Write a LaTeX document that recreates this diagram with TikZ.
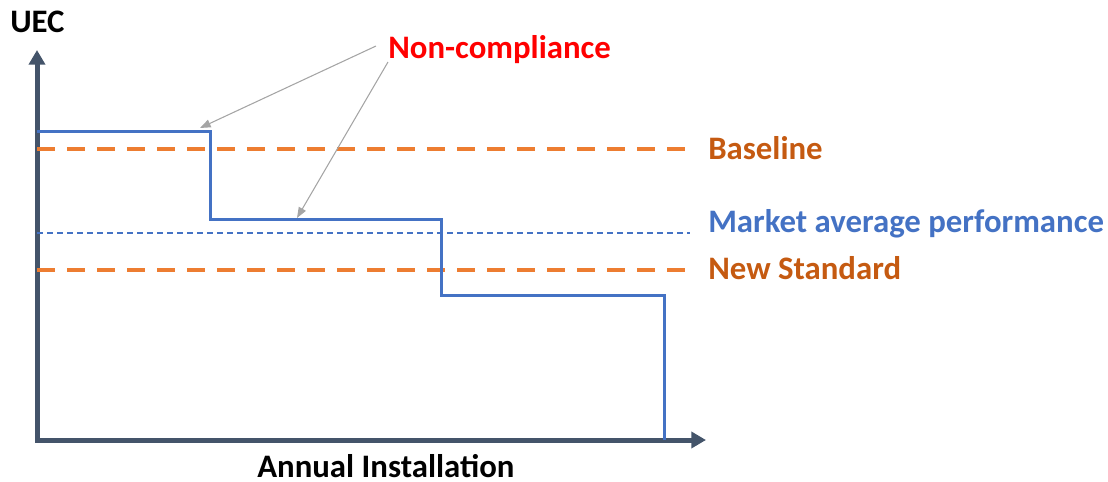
\documentclass[tikz,border=0pt]{standalone}
\usepackage{fontspec}
\setmainfont{Carlito}
\usetikzlibrary{arrows.meta, positioning}
\definecolor{axisgray}{HTML}{44546A}
\definecolor{stepblue}{HTML}{4472C4}
\definecolor{lineorange}{HTML}{ED7D31}
\definecolor{textorange}{HTML}{C55A11}
\definecolor{notegray}{HTML}{A5A5A5}
\tikzset{
  axis/.style={draw=axisgray, line width=3.75pt,
               {Triangle[length=11pt, width=12pt]}-{Triangle[length=11pt, width=12pt]}},
  stepline/.style={draw=stepblue, line width=2.25pt, line join=miter},
  stdline/.style={draw=lineorange, line width=3pt, dash pattern=on 13.5pt off 9pt},
  avgline/.style={draw=stepblue, line width=1.1pt, dash pattern=on 4.5pt off 3pt},
  lbl/.style={inner sep=0pt, anchor=base west, font=\fontsize{24.6}{28}\selectfont\bfseries},
  note/.style={draw=notegray, line width=0.8pt, -{Triangle[length=8pt, width=6pt]}},
}

\begin{document}
\begin{tikzpicture}[x=0.75pt, y=-0.75pt]
  \useasboundingbox (0,0) rectangle (1108,482);
  \coordinate (o) at (37,440);
  \coordinate (ytip) at (37,50);
  \coordinate (xtip) at (706,440);
  \draw[axis] (ytip) -- (o) -- (xtip);
  \node[lbl] (uec) at (10,32) {UEC};
  \node[lbl, text depth=0pt] (inst) at (257,477) {Annual Installation};

  \coordinate (bl0) at (37,149);  \coordinate (bl1) at (690,149);
  \coordinate (av0) at (37,233);  \coordinate (av1) at (690,233);
  \coordinate (ns0) at (37,270);  \coordinate (ns1) at (690,270);
  \draw[stdline] (bl0) -- (bl1);
  \draw[avgline] (av0) -- (av1);
  \draw[stdline] (ns0) -- (ns1);
  \node[lbl, text=textorange] (base) at (708,159) {Baseline};
  \node[lbl, text=stepblue] (avg) at (708,232) {Market average performance};
  \node[lbl, text=textorange] (std) at (708,279) {New Standard};

  \draw[stepline] (37,131) -- (210,131) -- (210,219) -- (441,219)
    -- (441,295) -- (664,295) -- (664,440);

  \node[lbl, text=red] (nc) at (388,58) {Non-compliance};
  \coordinate (t1) at (200,128);
  \coordinate (t2) at (297,218);
  \draw[note] ([shift={(-12,-12)}]nc.base west) -- (t1);
  \draw[note] ([shift={(0,4)}]nc.base west) -- (t2);
\end{tikzpicture}
\end{document}
